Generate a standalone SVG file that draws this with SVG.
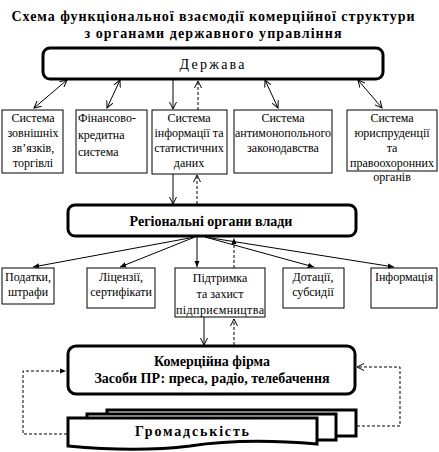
<svg xmlns="http://www.w3.org/2000/svg" width="439" height="452" viewBox="0 0 439 452">
<style>
.box{fill:#fff;stroke:#000;stroke-width:1}
.rb{fill:#fff;stroke:#000;stroke-width:3}
.ln{fill:none;stroke:#000;stroke-width:1}
.d{stroke-dasharray:3,2}
</style>
<defs>
<marker id="v" viewBox="0 0 8 8" refX="7" refY="4" markerWidth="8" markerHeight="8" orient="auto-start-reverse" markerUnits="userSpaceOnUse">
<path d="M0,0.5 L7,4 L0,7.5" fill="none" stroke="#000" stroke-width="1"/>
</marker>
<marker id="f" viewBox="0 0 8 8" refX="7" refY="4" markerWidth="7" markerHeight="7" orient="auto" markerUnits="userSpaceOnUse">
<path d="M0,1 L7,4 L0,7 Z" fill="#000"/>
</marker>
</defs>
<rect width="439" height="452" fill="#fff"/>

<g id="title">
<text font-family="Liberation Serif" font-size="14" font-weight="bold" text-anchor="middle" x="213" y="21" textLength="403" lengthAdjust="spacing">Схема функціональної взаємодії комерційної структури</text>
<text font-family="Liberation Serif" font-size="14" font-weight="bold" text-anchor="middle" x="213" y="38" textLength="257" lengthAdjust="spacing">з органами державного управління</text>
</g>

<g id="derzhava">
<rect class="rb" x="43" y="48" width="340" height="31" rx="7"/>
<text font-family="Liberation Serif" font-size="14" text-anchor="middle" x="212" y="69" textLength="65" lengthAdjust="spacing">Держава</text>
</g>

<g id="sys1">
<rect class="box" x="2" y="110" width="61" height="63"/>
<text font-family="Liberation Serif" font-size="12" text-anchor="middle" x="33" y="122">Система</text>
<text font-family="Liberation Serif" font-size="12" text-anchor="middle" x="33" y="137">зовнішніх</text>
<text font-family="Liberation Serif" font-size="12" text-anchor="middle" x="33" y="152">зв’язків,</text>
<text font-family="Liberation Serif" font-size="12" text-anchor="middle" x="33" y="167">торгівлі</text>
</g>
<g id="sys2">
<rect class="box" x="76" y="110" width="71" height="63"/>
<text font-family="Liberation Serif" font-size="12" x="78" y="122">Фінансово-</text>
<text font-family="Liberation Serif" font-size="12" x="78" y="139">кредитна</text>
<text font-family="Liberation Serif" font-size="12" x="78" y="156">система</text>
</g>
<g id="sys3">
<rect class="box" x="152" y="110" width="75" height="64"/>
<text font-family="Liberation Serif" font-size="12" text-anchor="middle" x="189" y="122">Система</text>
<text font-family="Liberation Serif" font-size="12" text-anchor="middle" x="189" y="137">інформації та</text>
<text font-family="Liberation Serif" font-size="12" text-anchor="middle" x="189" y="152">статистичних</text>
<text font-family="Liberation Serif" font-size="12" text-anchor="middle" x="189" y="167">даних</text>
</g>
<g id="sys4">
<rect class="box" x="234" y="110" width="98" height="63"/>
<text font-family="Liberation Serif" font-size="12" text-anchor="middle" x="283" y="122">Система</text>
<text font-family="Liberation Serif" font-size="12" text-anchor="middle" x="283" y="137">антимонопольного</text>
<text font-family="Liberation Serif" font-size="12" text-anchor="middle" x="283" y="152">законодавства</text>
</g>
<g id="sys5">
<rect class="box" x="347" y="110" width="90" height="61"/>
<text font-family="Liberation Serif" font-size="12" text-anchor="middle" x="392" y="122">Система</text>
<text font-family="Liberation Serif" font-size="12" text-anchor="middle" x="392" y="137">юриспруденції</text>
<text font-family="Liberation Serif" font-size="12" text-anchor="middle" x="392" y="152">та</text>
<text font-family="Liberation Serif" font-size="12" text-anchor="middle" x="392" y="167">правоохоронних</text>
<text font-family="Liberation Serif" font-size="12" text-anchor="middle" x="392" y="181">органів</text>
</g>

<g id="regional">
<rect class="rb" x="68" y="205" width="288" height="31" rx="7"/>
<text font-family="Liberation Serif" font-size="14" font-weight="bold" text-anchor="middle" x="211" y="226">Регіональні органи влади</text>
</g>

<g id="r1">
<rect class="box" x="2" y="268" width="52" height="36"/>
<text font-family="Liberation Serif" font-size="12" text-anchor="middle" x="28" y="281">Податки,</text>
<text font-family="Liberation Serif" font-size="12" text-anchor="middle" x="28" y="296">штрафи</text>
</g>
<g id="r2">
<rect class="box" x="87" y="268" width="68" height="40"/>
<text font-family="Liberation Serif" font-size="12" text-anchor="middle" x="121" y="281">Ліцензії,</text>
<text font-family="Liberation Serif" font-size="12" text-anchor="middle" x="121" y="296">сертифікати</text>
</g>
<g id="r3">
<rect class="box" x="175" y="268" width="90" height="49"/>
<text font-family="Liberation Serif" font-size="12" text-anchor="middle" x="220" y="282">Підтримка</text>
<text font-family="Liberation Serif" font-size="12" text-anchor="middle" x="220" y="298">та захист</text>
<text font-family="Liberation Serif" font-size="12" text-anchor="middle" x="220" y="314" textLength="88" lengthAdjust="spacing">підприємництва</text>
</g>
<g id="r4">
<rect class="box" x="283" y="268" width="61" height="40"/>
<text font-family="Liberation Serif" font-size="12" text-anchor="middle" x="313" y="281">Дотації,</text>
<text font-family="Liberation Serif" font-size="12" text-anchor="middle" x="313" y="296">субсидії</text>
</g>
<g id="r5">
<rect class="box" x="371" y="268" width="66" height="40"/>
<text font-family="Liberation Serif" font-size="12" text-anchor="middle" x="404" y="281">Інформація</text>
</g>

<g id="firm">
<rect class="rb" x="68" y="346" width="287" height="48" rx="8"/>
<text font-family="Liberation Serif" font-size="14" font-weight="bold" text-anchor="middle" x="212" y="366">Комерційна фірма</text>
<text font-family="Liberation Serif" font-size="14" font-weight="bold" text-anchor="middle" x="212" y="383">Засоби ПР: преса, радіо, телебачення</text>
</g>

<g id="public">
<rect class="rb" x="107" y="410" width="249" height="26"/>
<rect class="rb" x="87" y="414" width="249" height="26"/>
<path class="rb" d="M68,418 H317 V444 C270,440 230,440 190,446 C150,451 110,450 68,446 Z"/>
<text font-family="Liberation Serif" font-size="14" font-weight="bold" text-anchor="middle" x="192" y="436" textLength="114" lengthAdjust="spacing">Громадськість</text>
</g>

<g id="connectors">
<line class="ln" x1="67" y1="80" x2="34" y2="108" marker-start="url(#v)" marker-end="url(#v)"/>
<line class="ln" x1="120" y1="80" x2="107" y2="108" marker-start="url(#v)" marker-end="url(#v)"/>
<line class="ln" x1="173" y1="80" x2="173" y2="109" marker-end="url(#v)"/>
<line class="ln d" x1="198" y1="110" x2="198" y2="81" marker-end="url(#v)"/>
<line class="ln" x1="265" y1="80" x2="278" y2="108" marker-start="url(#v)" marker-end="url(#v)"/>
<line class="ln" x1="358" y1="80" x2="382" y2="108" marker-start="url(#v)" marker-end="url(#v)"/>

<line class="ln" x1="173" y1="174" x2="173" y2="204" marker-end="url(#v)"/>
<line class="ln d" x1="197" y1="204" x2="197" y2="175" marker-end="url(#v)"/>

<line class="ln" x1="195" y1="237" x2="33" y2="267" marker-end="url(#f)"/>
<line class="ln" x1="195" y1="237" x2="120" y2="267" marker-end="url(#f)"/>
<line class="ln" x1="197" y1="237" x2="197" y2="267" marker-end="url(#f)"/>
<line class="ln" x1="205" y1="237" x2="314" y2="267" marker-end="url(#f)"/>
<line class="ln" x1="205" y1="237" x2="394" y2="267" marker-end="url(#f)"/>
<line class="ln d" x1="234" y1="268" x2="234" y2="238" marker-end="url(#f)"/>

<line class="ln" x1="204" y1="317" x2="204" y2="345" marker-end="url(#v)"/>
<line class="ln d" x1="234" y1="345" x2="234" y2="319" marker-end="url(#v)"/>

<path class="ln d" d="M67,434 H23 V371 H66" marker-end="url(#f)"/>
<path class="ln d" d="M357,426 H400 V367 H357" marker-end="url(#v)"/>
</g>
</svg>
